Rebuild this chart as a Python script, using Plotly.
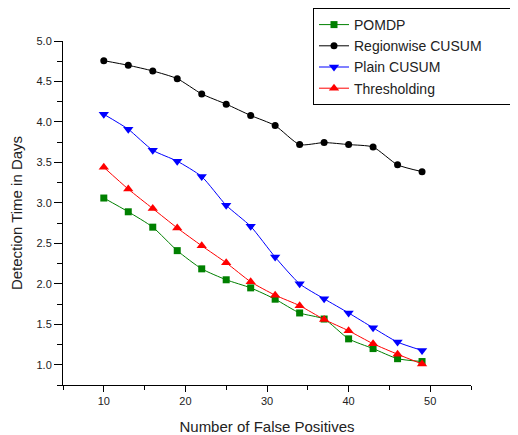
import plotly.graph_objects as go

x_vals = [10, 13, 16, 19, 22, 25, 28, 31, 34, 37, 40, 43, 46, 49]
pomdp = [3.06, 2.89, 2.70, 2.41, 2.185, 2.05, 1.95, 1.81, 1.64, 1.565, 1.32, 1.20, 1.075, 1.04]
regionwise = [4.757, 4.70, 4.63, 4.535, 4.346, 4.22, 4.08, 3.955, 3.72, 3.745, 3.72, 3.69, 3.47, 3.386]
plain = [4.095, 3.91, 3.65, 3.515, 3.325, 2.97, 2.71, 2.33, 2.0, 1.815, 1.64, 1.457, 1.28, 1.177]
thresh = [3.44, 3.17, 2.93, 2.69, 2.47, 2.26, 2.025, 1.86, 1.73, 1.56, 1.42, 1.26, 1.13, 1.01]

x_ticks = [10, 20, 30, 40, 50]
y_ticks = [1.0, 1.5, 2.0, 2.5, 3.0, 3.5, 4.0, 4.5, 5.0]
y_ticktext = ["1.0", "1.5", "2.0", "2.5", "3.0", "3.5", "4.0", "4.5", "5.0"]
names = ["POMDP", "Regionwise CUSUM", "Plain CUSUM", "Thresholding"]

pad = "\u00a0" * 8  # widens the legend box toward the right edge as in the reference
series = [
    (names[0], pomdp, "#008000", "square", 7),
    (names[1] + pad, regionwise, "#000000", "circle", 7),
    (names[2], plain, "#0000FF", "triangle-down", 9),
    (names[3], thresh, "#FF0000", "triangle-up", 9),
]

fig = go.Figure()
for name, ys, col, sym, sz in series:
    fig.add_trace(go.Scatter(
        x=x_vals, y=ys, name=name, mode="lines+markers",
        line=dict(color=col, width=1, shape="spline", smoothing=0.6),
        marker=dict(symbol=sym, size=sz, color=col),
    ))

font = "Liberation Sans, Arial, sans-serif"
# page body has an 8px margin; figure is sized to fit the 518x435 window
fig.update_layout(
    width=510, height=427,
    margin=dict(l=55, r=47, t=33, b=50, autoexpand=False),
    paper_bgcolor="white", plot_bgcolor="white",
    font=dict(family=font, color="#222222", size=11),
    showlegend=True,
    legend=dict(
        x=(305 - 55) / 408, y=1.0 + 33 / 344, xanchor="left", yanchor="top",
        bordercolor="#000000", borderwidth=1, bgcolor="white",
        font=dict(size=14, family=font, color="#222222"),
        tracegroupgap=0, itemwidth=30,
    ),
    xaxis=dict(
        range=[5, 55], showgrid=False, zeroline=False, automargin=False,
        showline=True, linecolor="#000000", linewidth=1,
        tickmode="array", tickvals=x_ticks,
        ticks="outside", ticklen=6, tickcolor="#000000",
        minor=dict(tickvals=[5, 15, 25, 35, 45, 55], ticks="outside", ticklen=4, tickcolor="#000000"),
        tickfont=dict(size=11),
        title=dict(text="Number of False Positives", font=dict(size=15), standoff=15),
    ),
    yaxis=dict(
        range=[0.75, 5.0], showgrid=False, zeroline=False, automargin=False,
        showline=True, linecolor="#000000", linewidth=1,
        tickmode="array", tickvals=y_ticks, ticktext=y_ticktext,
        ticks="outside", ticklen=8, tickcolor="#000000",
        minor=dict(tickvals=[0.75, 1.25, 1.75, 2.25, 2.75, 3.25, 3.75, 4.25, 4.75], ticks="outside", ticklen=5, tickcolor="#000000"),
        tickfont=dict(size=11),
        title=dict(text="Detection Time in Days", font=dict(size=15), standoff=10),
    ),
)

fig.write_html("out.html")
